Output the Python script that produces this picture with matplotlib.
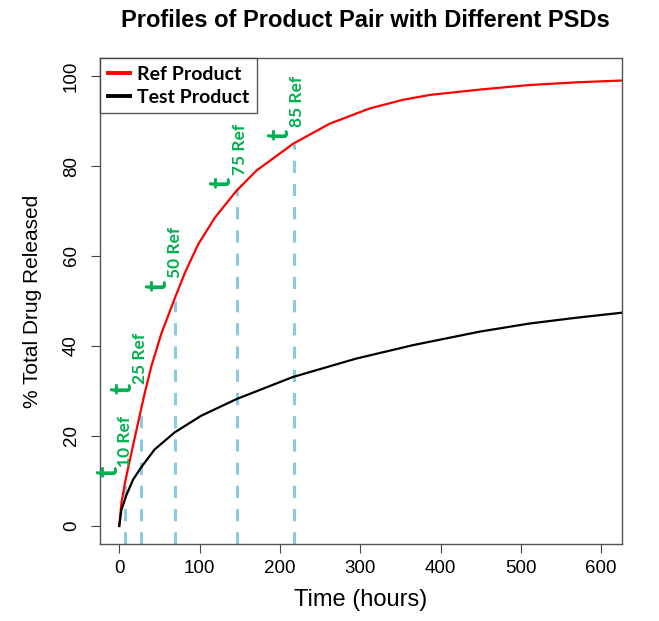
import matplotlib
matplotlib.use('Agg')
import matplotlib.pyplot as plt

# release profiles, % released vs time in hours
ref_time = [0, 2.7, 7, 13, 19.3, 26, 31.8, 40, 52.5, 70, 81.6, 98, 119, 146, 171, 217,
            262, 312, 353, 387, 450, 511, 570, 626]
ref_pct = [0, 5.1, 9.5, 14.5, 19.6, 25, 29.6, 35.5, 42.8, 51, 56.2, 62.5, 68.5, 74.5, 79, 85,
           89.4, 92.8, 94.7, 95.8, 97.0, 98.0, 98.6, 99.0]
test_time = [0, 2.7, 9, 17.2, 27.6, 44, 69, 102, 146, 216, 295, 366, 449, 511, 570, 626]
test_pct = [0, 3.6, 6.9, 10.3, 13.1, 17, 20.8, 24.5, 28.2, 33.1, 37.2, 40.2, 43.2, 45.0, 46.3, 47.4]

# reference time points t10 ... t85
tref_names = ['10', '25', '50', '75', '85']
tref_time = [7, 27, 70, 146, 217]
tref_pct = [10, 25, 50, 75, 85]

green = '#00B050'
fig = plt.figure(figsize=(6.59, 6.21), dpi=100)
ax = fig.add_axes([0.1517, 0.124, 0.7922, 0.7826])

ax.plot(ref_time, ref_pct, color='red', lw=1.6, label='Ref Product', zorder=3)
ax.plot(test_time, test_pct, color='black', lw=1.6, label='Test Product', zorder=3)

for t, p in zip(tref_time, tref_pct):
    ax.plot([t, t], [-4, p], color='#8ACBE0', lw=2.2, dashes=(4, 3.6), zorder=2)

# t glyph and subscript positions, data units
lab_pos = [(-14, 12.1, 7, 13.2), (4.5, 30.5, 25.5, 31.6), (48, 53.5, 69, 55.1),
           (127.6, 76.4, 150, 77.9), (200, 87.1, 221, 88.7)]
for name, (gx, gy, sx, sy) in zip(tref_names, lab_pos):
    ax.text(gx, gy, 't', color=green, fontsize=22, fontweight='bold', family='Lato',
            rotation=90, ha='center', va='center')
    ax.text(sx, sy, name + ' Ref', color=green, fontsize=12.5, fontweight='bold', family='Lato',
            rotation=90, ha='center', va='bottom')

ax.set_xlim(-24, 626)
ax.set_ylim(-4, 104)
ax.set_xticks([0, 100, 200, 300, 400, 500, 600])
ax.set_yticks([0, 20, 40, 60, 80, 100])
ax.tick_params(direction='out', length=6.5, width=0.8, color='#444444', labelsize=13.5, pad=5)
ax.tick_params(axis='y', pad=8)
for lab in ax.get_yticklabels():
    lab.set_rotation(90)
    lab.set_va('center')
for lab in ax.get_xticklabels() + ax.get_yticklabels():
    lab.set_family('Liberation Sans')
for s in ax.spines.values():
    s.set_color('#555555')
    s.set_linewidth(1.0)

ax.set_xlabel('Time (hours)', fontsize=17, family='Liberation Sans', labelpad=9)
ax.set_ylabel('% Total Drug Released', fontsize=15, family='Liberation Sans', labelpad=15)
fig.suptitle('Profiles of Product Pair with Different PSDs', fontsize=17, fontweight='bold',
             family='Liberation Sans', x=0.554, y=0.985)

leg = ax.legend(loc='upper left', bbox_to_anchor=(0, 1), borderaxespad=0, fancybox=False,
                frameon=True, handlelength=1.15, handletextpad=0.35, borderpad=0.4,
                labelspacing=0.3, prop={'family': 'Lato', 'weight': 'bold', 'size': 14})
leg.get_frame().set_edgecolor('#333333')
leg.get_frame().set_linewidth(1.0)
for h in leg.get_lines():
    h.set_linewidth(2.8)

fig.savefig('out.png', dpi=100)
